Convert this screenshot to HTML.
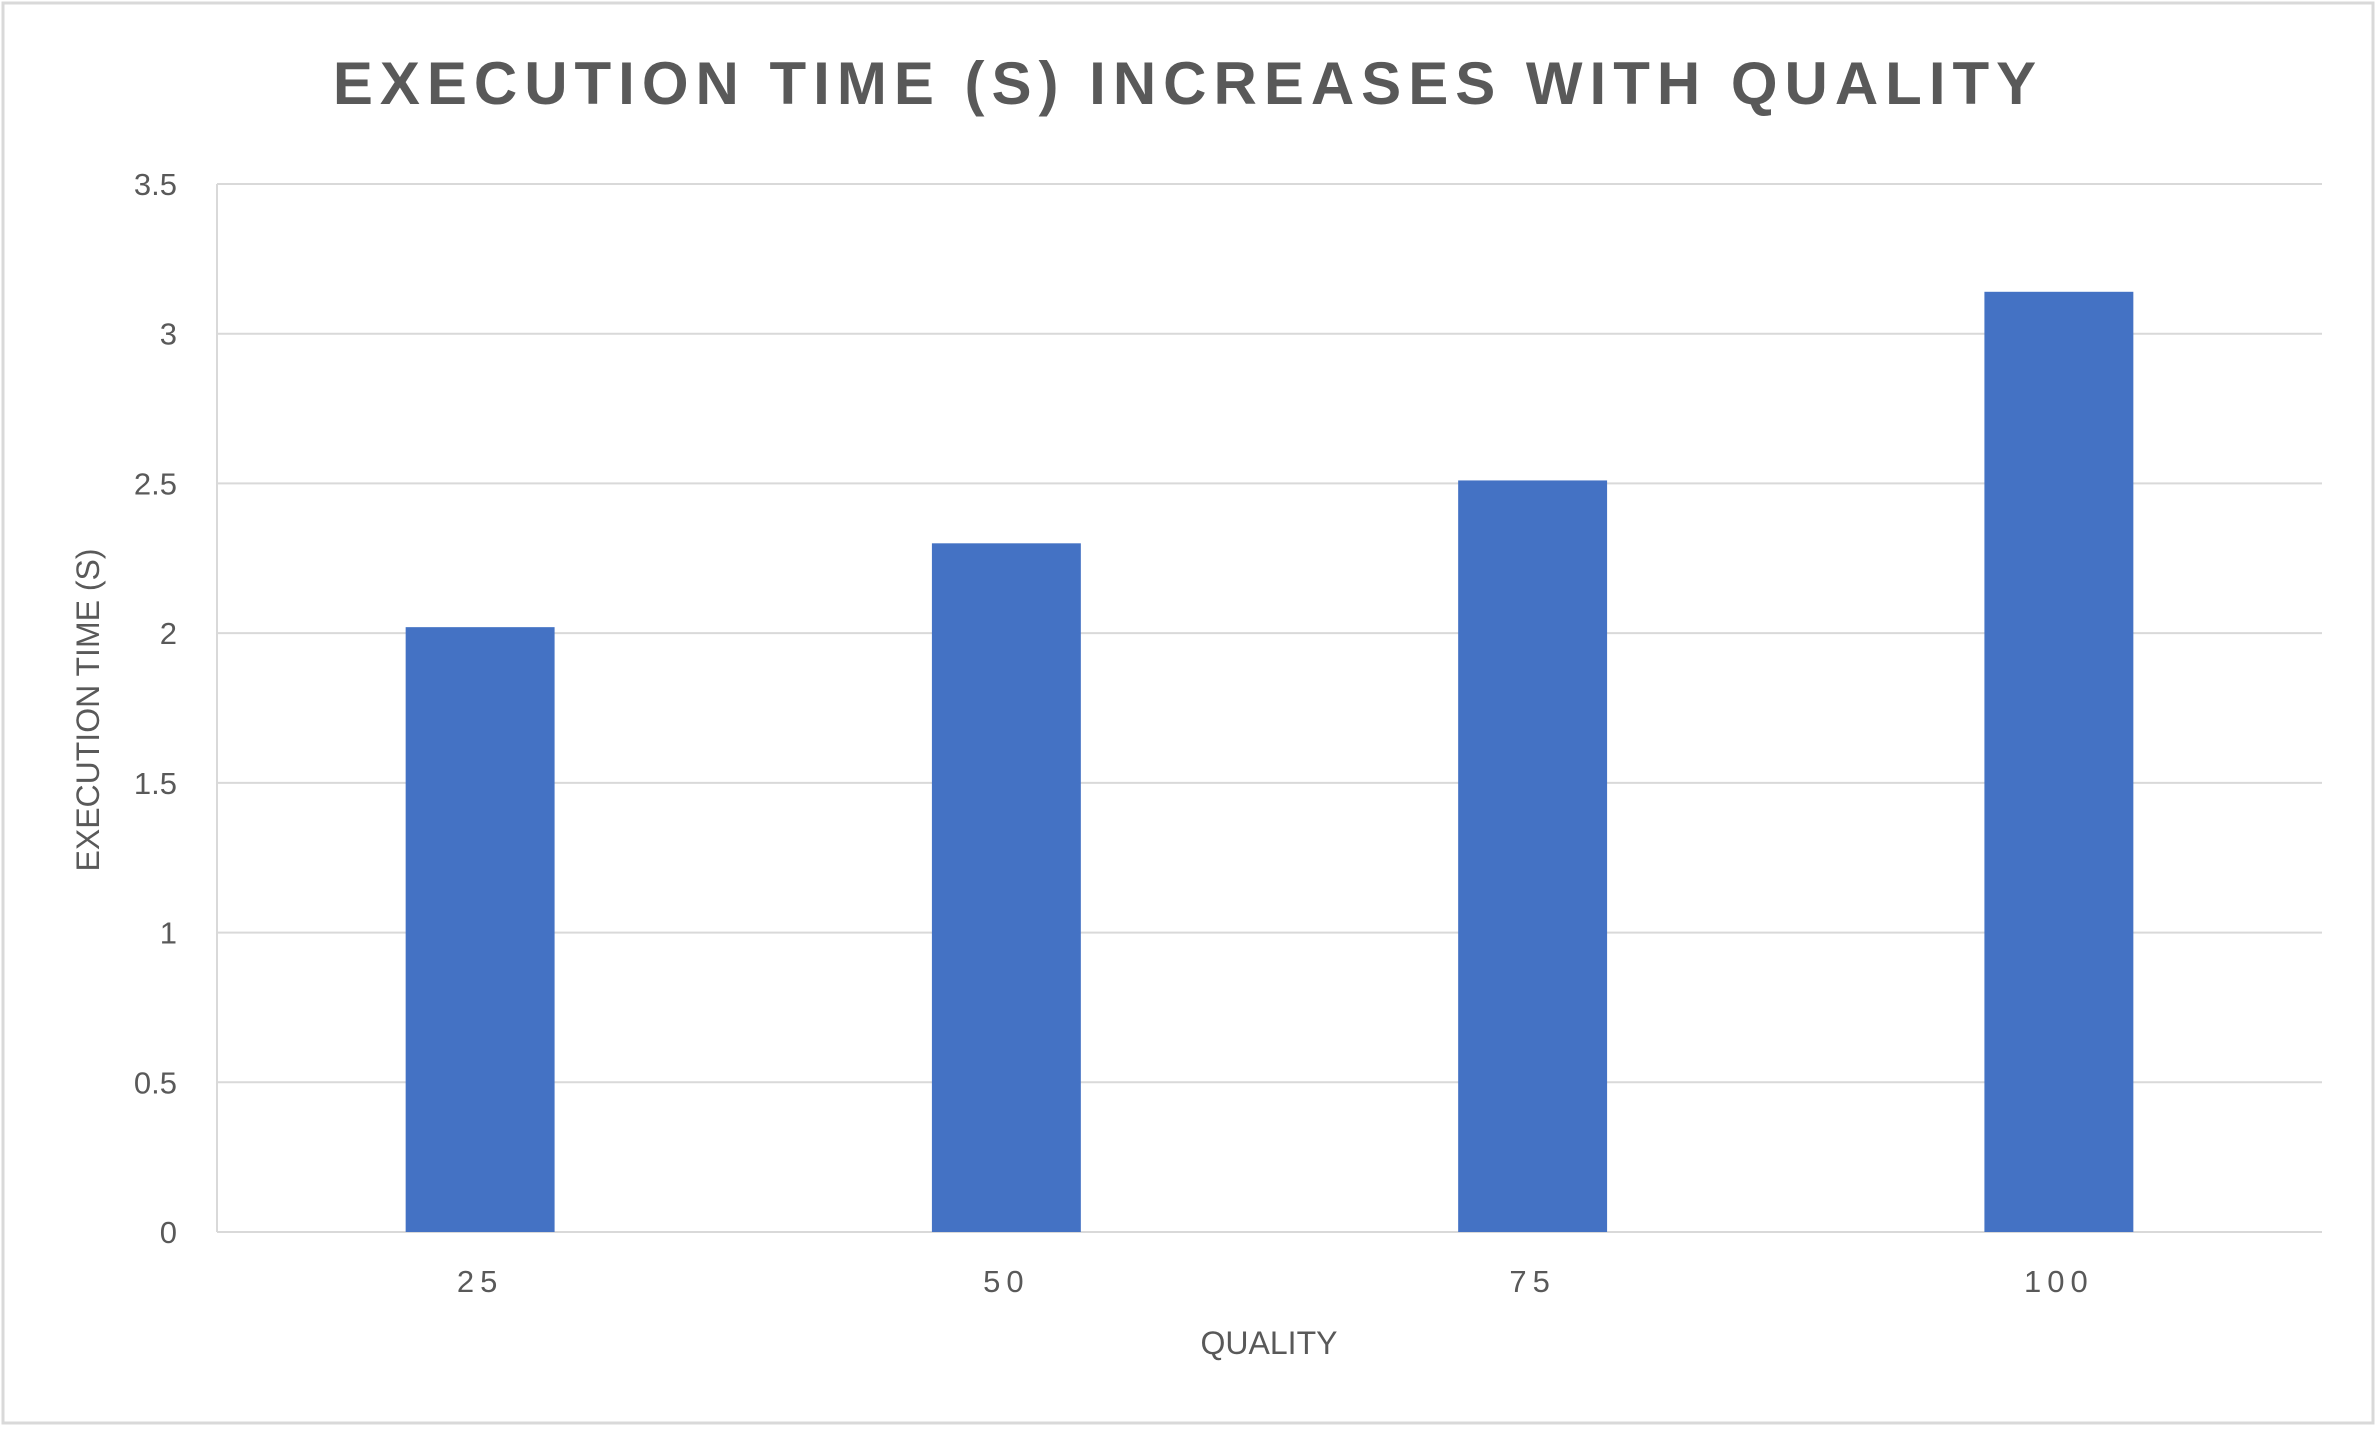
<!DOCTYPE html>
<html><head><meta charset="utf-8"><style>
html,body{margin:0;padding:0;background:#fff;}
svg{display:block;font-family:"Liberation Sans",sans-serif;}
</style></head><body>
<svg id="chart" width="2378" height="1430" viewBox="0 0 2378 1430">
<rect x="3" y="3" width="2370" height="1420" fill="#fff" stroke="#d9d9d9" stroke-width="3"/>
<text x="1188" y="104" text-anchor="middle" font-size="60" font-weight="bold" fill="#595959" letter-spacing="7">EXECUTION TIME (S) INCREASES WITH QUALITY</text>
<g id="grid"></g>
<g id="bars"></g>
<g id="yticks"></g>
<g id="xticks"></g>
<text x="1269" y="1354" text-anchor="middle" font-size="32" fill="#595959">QUALITY</text>
<text transform="translate(99,710) rotate(-90)" text-anchor="middle" font-size="32" fill="#595959">EXECUTION TIME (S)</text>
</svg>
<script>
const categories = ["25","50","75","100"];
const values = [2.02, 2.30, 2.51, 3.14];
const yTicks = [0,0.5,1,1.5,2,2.5,3,3.5];
const yTickLabels = ["0","0.5","1","1.5","2","2.5","3","3.5"];
const X0=217, X1=2322, Y0=1232, Y1=184, YMAX=3.5;
const NS="http://www.w3.org/2000/svg";
const y = v => Y0 - v/YMAX*(Y0-Y1);
const band = (X1-X0)/categories.length;
const xc = i => X0 + band*(i+0.5);
const bw = band*0.283;
const grid=document.getElementById('grid'), bars=document.getElementById('bars'),
 yt=document.getElementById('yticks'), xt=document.getElementById('xticks');
yTicks.forEach((t,i)=>{
 const l=document.createElementNS(NS,'line');
 
 
 l.setAttribute('x1',X0);l.setAttribute('x2',X1);l.setAttribute('y1',y(t));l.setAttribute('y2',y(t));
 l.setAttribute('stroke','#d9d9d9');l.setAttribute('stroke-width','2');
 grid.appendChild(l);
 const tx=document.createElementNS(NS,'text');
 
 
 tx.setAttribute('x',177);tx.setAttribute('y',y(t)+11);tx.setAttribute('text-anchor','end');
 tx.setAttribute('font-size','31');tx.setAttribute('fill','#595959');
 tx.textContent=yTickLabels[i];yt.appendChild(tx);
});
const yl=document.createElementNS(NS,'line');


yl.setAttribute('x1',X0);yl.setAttribute('x2',X0);yl.setAttribute('y1',Y1);yl.setAttribute('y2',Y0);
yl.setAttribute('stroke','#d9d9d9');yl.setAttribute('stroke-width','2');grid.appendChild(yl);
categories.forEach((c,i)=>{
 const r=document.createElementNS(NS,'rect');
 
 
 r.setAttribute('x',xc(i)-bw/2);r.setAttribute('width',bw);
 r.setAttribute('y',y(values[i]));r.setAttribute('height',Y0-y(values[i]));
 r.setAttribute('fill','#4472c4');bars.appendChild(r);
 const tx=document.createElementNS(NS,'text');
 
 
 tx.setAttribute('x',xc(i));tx.setAttribute('y',1292);tx.setAttribute('text-anchor','middle');
 tx.setAttribute('font-size','31');tx.setAttribute('fill','#595959');tx.setAttribute('letter-spacing','6');
 tx.textContent=c;xt.appendChild(tx);
});
</script>
</body></html>
